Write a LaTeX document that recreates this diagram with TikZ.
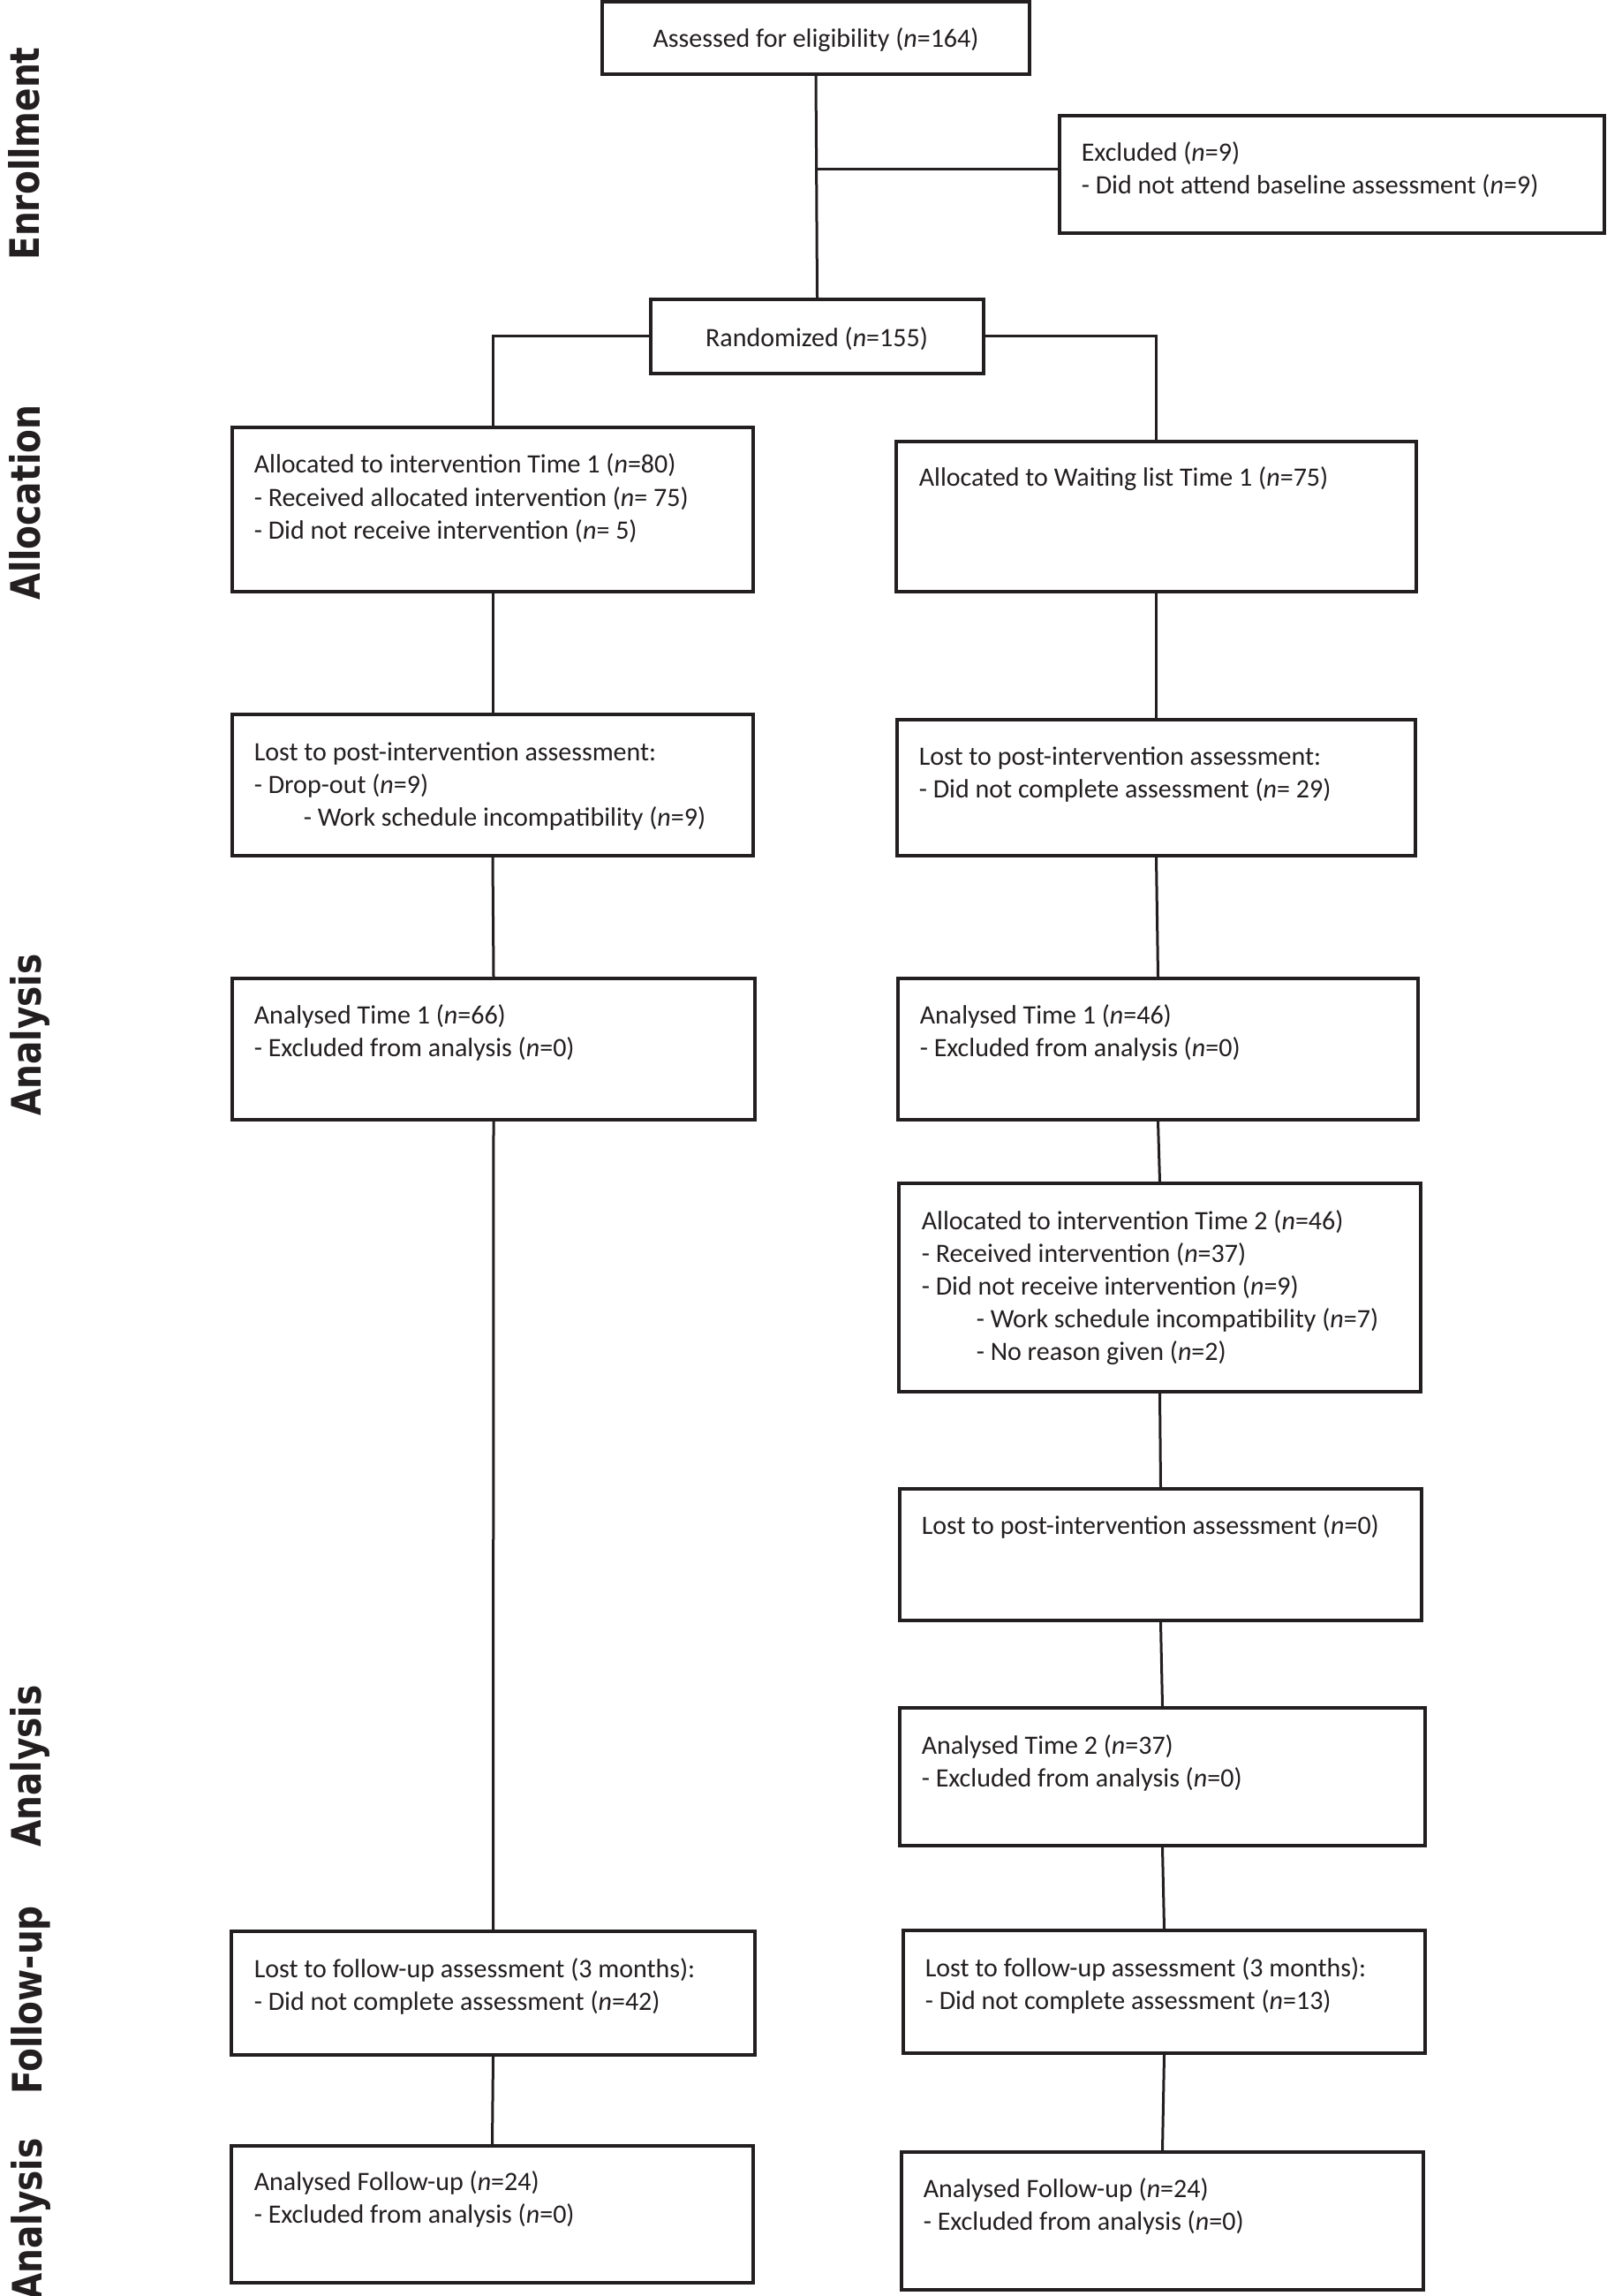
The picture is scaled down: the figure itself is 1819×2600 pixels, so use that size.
\documentclass[tikz,border=0pt]{standalone}
\usepackage{fontspec}
\setmainfont{Carlito}
\newfontfamily\sidefont[FakeStretch=0.85]{DejaVu Sans}
\usetikzlibrary{fit}
\definecolor{ink}{HTML}{231F20}
\newcommand\boxlines[4]{%
  \foreach \mytext [count=\myi from 0] in {#4}{%
    \node[txt] (#1t\myi) at (#2,{#3+37*\myi}) {\mytext};}}
\begin{document}
\begin{tikzpicture}[x=0.25pt,y=-0.25pt,
  box/.style={draw=ink, line width=1pt, inner sep=0pt},
  conn/.style={draw=ink, line width=0.75pt},
  txt/.style={inner sep=0pt, anchor=base west, text=ink,
    font=\fontsize{7.5pt}{9.25pt}\selectfont},
  side/.style={inner sep=0pt, anchor=base, rotate=90, text=ink,
    font=\sidefont\bfseries\fontsize{11.5pt}{13pt}\selectfont}]
\useasboundingbox (0,0) rectangle (1819,2600);
\fill[white] (0,0) rectangle (1819,2600);

% side labels
\node[side] (lab1) at (44,174) {Enrollment};
\node[side] (lab2) at (46,569) {Allocation};
\node[side] (lab3) at (47,1172) {Analysis};
\node[side] (lab4) at (47,2000) {Analysis};
\node[side] (lab5) at (48,2265) {Follow-up};
\node[side] (lab6) at (48,2513) {Analysis};

% boxes
\node[box, fit={(682,2) (1166,84)}] (A) {};
\node[box, fit={(1200,131) (1817,264)}] (B) {};
\node[box, fit={(737,339) (1114,423)}] (C) {};
\node[box, fit={(263,484) (853,670)}] (D) {};
\node[box, fit={(1015,500) (1604,670)}] (E) {};
\node[box, fit={(263,809) (853,969)}] (F) {};
\node[box, fit={(1016,815) (1603,969)}] (G) {};
\node[box, fit={(263,1108) (855,1268)}] (H) {};
\node[box, fit={(1017,1108) (1606,1268)}] (I) {};
\node[box, fit={(1018,1340) (1609,1576)}] (J) {};
\node[box, fit={(1019,1686) (1610,1835)}] (K) {};
\node[box, fit={(1019,1934) (1614,2090)}] (L) {};
\node[box, fit={(262,2187) (855,2327)}] (M) {};
\node[box, fit={(1023,2186) (1614,2325)}] (N) {};
\node[box, fit={(262,2430) (853,2585)}] (O) {};
\node[box, fit={(1021,2437) (1612,2593)}] (P) {};

% texts
\node[txt, anchor=base] (At0) at (924,54) {Assessed for eligibility (\textit{n}=164)};
\boxlines{B}{1224}{183}{Excluded (\textit{n}=9), - Did not attend baseline assessment (\textit{n}=9)}
\node[txt, anchor=base] (Ct0) at (925,393) {Randomized (\textit{n}=155)};
\boxlines{D}{287}{536}{Allocated to intervention Time 1 (\textit{n}=80), - Received allocated intervention (\textit{n}= 75), - Did not receive intervention (\textit{n}= 5)}
\boxlines{E}{1040}{551}{Allocated to Waiting list Time 1 (\textit{n}=75)}
\boxlines{F}{287}{861}{Lost to post-intervention assessment:, - Drop-out (\textit{n}=9), \hspace*{14pt}- Work schedule incompatibility (\textit{n}=9)}
\boxlines{G}{1040}{866}{Lost to post-intervention assessment:, - Did not complete assessment (\textit{n}= 29)}
\boxlines{H}{287}{1159}{Analysed Time 1 (\textit{n}=66), - Excluded from analysis (\textit{n}=0)}
\boxlines{I}{1041}{1159}{Analysed Time 1 (\textit{n}=46), - Excluded from analysis (\textit{n}=0)}
\boxlines{J}{1043}{1392}{Allocated to intervention Time 2 (\textit{n}=46), - Received intervention (\textit{n}=37), - Did not receive intervention (\textit{n}=9), \hspace*{15.5pt}- Work schedule incompatibility (\textit{n}=7), \hspace*{15.5pt}- No reason given (\textit{n}=2)}
\boxlines{K}{1043}{1737}{Lost to post-intervention assessment (\textit{n}=0)}
\boxlines{L}{1043}{1986}{Analysed Time 2 (\textit{n}=37), - Excluded from analysis (\textit{n}=0)}
\boxlines{M}{287}{2239}{Lost to follow-up assessment (3 months):, - Did not complete assessment (\textit{n}=42)}
\boxlines{N}{1047}{2238}{Lost to follow-up assessment (3 months):, - Did not complete assessment (\textit{n}=13)}
\boxlines{O}{287}{2480}{Analysed Follow-up (\textit{n}=24), - Excluded from analysis (\textit{n}=0)}
\boxlines{P}{1045}{2488}{Analysed Follow-up (\textit{n}=24), - Excluded from analysis (\textit{n}=0)}

% connectors
\coordinate (jy) at (0,192);
\draw[conn] (A.south) -- (C.north);
\draw[conn] (A.south |- jy) -- (B.west |- jy);
\draw[conn] (C.west) -| (D.north);
\draw[conn] (C.east) -| (E.north);
\draw[conn] (D.south) -- (F.north);
\draw[conn] (E.south) -- (G.north);
\draw[conn] (F.south) -- (H.north);
\draw[conn] (G.south) -- (I.north);
\draw[conn] (H.south) -- (M.north);
\draw[conn] (I.south) -- (J.north);
\draw[conn] (J.south) -- (K.north);
\draw[conn] (K.south) -- (L.north);
\draw[conn] (L.south) -- (N.north);
\draw[conn] (M.south) -- (O.north);
\draw[conn] (N.south) -- (P.north);
\end{tikzpicture}
\end{document}
